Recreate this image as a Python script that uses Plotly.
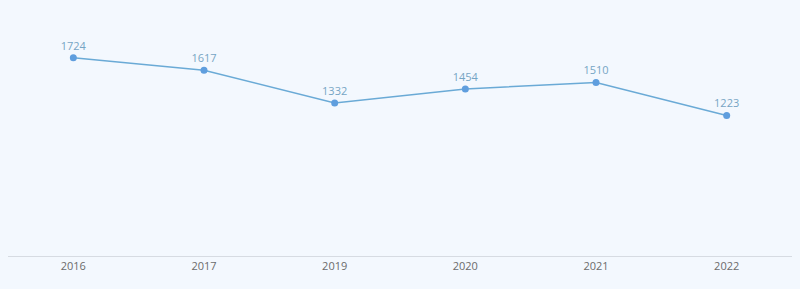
import plotly.graph_objects as go

years = ["2016", "2017", "2019", "2020", "2021", "2022"]
values = [1724, 1617, 1332, 1454, 1510, 1223]

fig = go.Figure()
fig.add_trace(go.Scatter(
    x=years, y=values, mode="lines+markers+text",
    text=[str(v) for v in values], textposition="top center",
    textfont=dict(family="Open Sans", size=11, color="#76a5c4"),
    line=dict(color="#6aaad6", width=1.5),
    marker=dict(color="#5f9ede", size=7),
    hoverinfo="skip", cliponaxis=False,
))
fig.update_layout(
    width=800, height=289,
    margin=dict(l=8, r=8, t=25, b=32.5),
    paper_bgcolor="#f3f8fe", plot_bgcolor="#f3f8fe",
    showlegend=False,
    font=dict(family="Open Sans", size=11, color="#666666"),
)
fig.update_xaxes(type="category", range=[-0.5, 5.5], showgrid=False,
                 showline=True, linecolor="#d6dbe2", linewidth=1,
                 ticks="", tickfont=dict(color="#6b6b6b", size=11), zeroline=False)
fig.update_yaxes(range=[0, 2010], showgrid=False, showticklabels=False,
                 zeroline=False, showline=False)
fig.write_html("out.html")
